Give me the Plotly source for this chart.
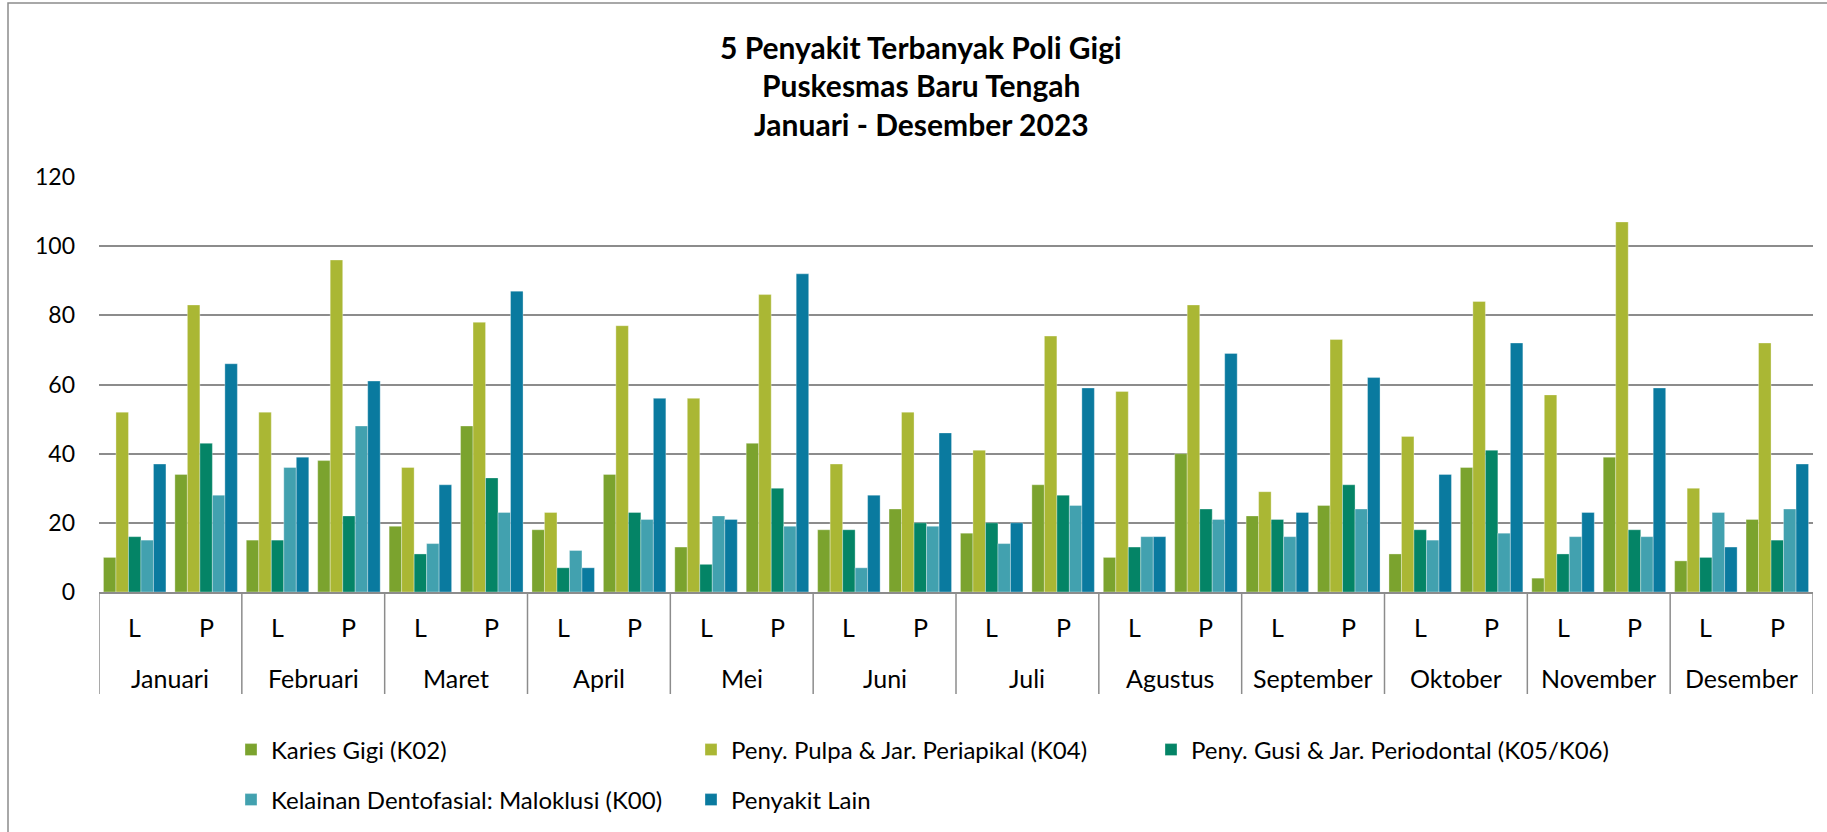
import plotly.graph_objects as go

months = ["Januari", "Februari", "Maret", "April", "Mei", "Juni",
          "Juli", "Agustus", "September", "Oktober", "November", "Desember"]
sexes = ["L", "P"]

series_names = [
    "Karies Gigi (K02)",
    "Peny. Pulpa & Jar. Periapikal (K04)",
    "Peny. Gusi & Jar. Periodontal (K05/K06)",
    "Kelainan Dentofasial: Maloklusi (K00)",
    "Penyakit Lain",
]
# order: Jan L, Jan P, Feb L, Feb P, ...
karies = [10, 34, 15, 38, 19, 48, 18, 34, 13, 43, 18, 24, 17, 31, 10, 40, 22, 25, 11, 36, 4, 39, 9, 21]
pulpa = [52, 83, 52, 96, 36, 78, 23, 77, 56, 86, 37, 52, 41, 74, 58, 83, 29, 73, 45, 84, 57, 107, 30, 72]
gusi = [16, 43, 15, 22, 11, 33, 7, 23, 8, 30, 18, 20, 20, 28, 13, 24, 21, 31, 18, 41, 11, 18, 10, 15]
maloklusi = [15, 28, 36, 48, 14, 23, 12, 21, 22, 19, 7, 19, 14, 25, 16, 21, 16, 24, 15, 17, 16, 16, 23, 24]
lain = [37, 66, 39, 61, 31, 87, 7, 56, 21, 92, 28, 46, 20, 59, 16, 69, 23, 62, 34, 72, 23, 59, 13, 37]

colors = ["#7BA32E", "#AAB734", "#048466", "#42A1AF", "#0A7A9F"]
title_lines = ["5 Penyakit Terbanyak Poli Gigi", "Puskesmas Baru Tengah", "Januari - Desember 2023"]

FONT = "Lato, 'Open Sans', sans-serif"

categories = [f"{m} {s}" for m in months for s in sexes]
all_series = [karies, pulpa, gusi, maloklusi, lain]

fig = go.Figure()
for i, (name, vals, col) in enumerate(zip(series_names, all_series, colors)):
    fig.add_trace(go.Bar(
        x=categories, y=vals, name=name,
        marker=dict(color=col, line=dict(width=0.6, color="rgba(255,255,255,0.55)")),
        legend="legend" if i < 3 else "legend2",
    ))

# plot area geometry (px)
L, R, T, B = 99, 14, 177, 240
W, H = 1827, 832
pw = W - L - R
ph = H - T - B

def px_to_paper_y(py):
    return (H - B - py) / ph

def px_to_paper_x(px):
    return (px - L) / pw

annotations = []
# category labels
for c, (m, s) in zip(categories, [(m, s) for m in months for s in sexes]):
    annotations.append(dict(x=c, y=0, xref="x", yref="paper", yshift=-35,
                            text=s, showarrow=False, yanchor="middle",
                            font=dict(family=FONT, size=25, color="#000")))
for i, m in enumerate(months):
    annotations.append(dict(x=2 * i + 0.5, y=0, xref="x", yref="paper", yshift=-86,
                            text=m, showarrow=False, yanchor="middle",
                            font=dict(family=FONT, size=25, color="#000")))
# title
for line, py in zip(title_lines, [47, 85, 124]):
    annotations.append(dict(x=px_to_paper_x(921), y=px_to_paper_y(py), xref="paper", yref="paper",
                            text=f"<b>{line}</b>", showarrow=False, yanchor="middle", xanchor="center",
                            font=dict(family=FONT, size=30, color="#000")))

shapes = []
for i in range(len(months) + 1):
    shapes.append(dict(type="line", xref="x", yref="paper",
                       x0=2 * i - 0.5, x1=2 * i - 0.5, y0=0, y1=px_to_paper_y(694),
                       line=dict(color="#8c8c8c", width=1.5)))
# outer chart border
shapes.append(dict(type="rect", xref="paper", yref="paper",
                   x0=px_to_paper_x(8), x1=px_to_paper_x(1845),
                   y0=px_to_paper_y(850), y1=px_to_paper_y(3),
                   line=dict(color="#8c8c8c", width=1.5), fillcolor="rgba(0,0,0,0)", layer="below"))

legend_common = dict(orientation="h", xanchor="left", yanchor="middle",
                     font=dict(family=FONT, size=24, color="#000"),
                     entrywidth=415, entrywidthmode="pixels",
                     bgcolor="rgba(0,0,0,0)", traceorder="normal")

fig.update_layout(
    width=W, height=H,
    margin=dict(l=L, r=R, t=T, b=B, pad=0, autoexpand=False),
    paper_bgcolor="white", plot_bgcolor="white",
    barmode="group", bargap=0.125, bargroupgap=0,
    font=dict(family=FONT, color="#000"),
    xaxis=dict(type="category", range=[-0.5, 23.5], showticklabels=False, ticks="",
               showgrid=False, showline=True, linecolor="#8c8c8c", linewidth=2,
               zeroline=False, fixedrange=True),
    yaxis=dict(range=[0, 120], dtick=20, tick0=0, showgrid=True, gridcolor="#8c8c8c",
               gridwidth=1.5, zeroline=False, showline=False, ticks="",
               ticklabelstandoff=23, tickfont=dict(family=FONT, size=23, color="#000")),
    legend=dict(x=px_to_paper_x(231), y=px_to_paper_y(750), **legend_common),
    legend2=dict(x=px_to_paper_x(231), y=px_to_paper_y(800), **legend_common),
    annotations=annotations,
    shapes=shapes,
)

fig.write_html("out.html", config={"displayModeBar": False},
               post_script="document.body.style.margin='0';")
